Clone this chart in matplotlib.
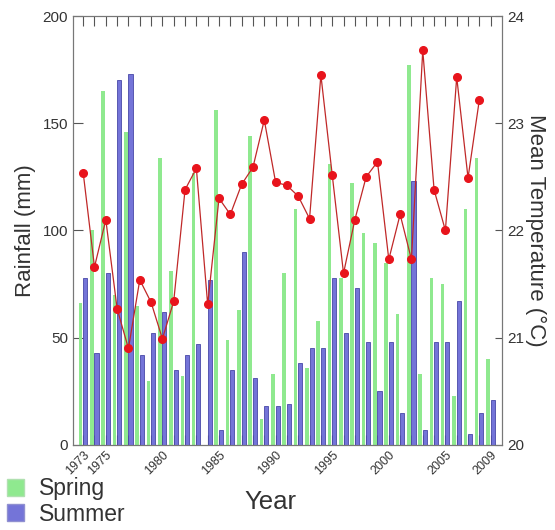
import numpy as np
import matplotlib.pyplot as plt
from matplotlib.patches import Patch

plt.rcParams['font.family'] = ['Liberation Sans', 'DejaVu Sans']

# data
years = np.arange(1973, 2010)
spring = [66, 100, 165, 70, 146, 65, 30, 134, 81, 32, 127, 0, 156, 49, 63, 144, 12, 33, 80,
          110, 36, 58, 131, 78, 122, 99, 94, 85, 61, 177, 33, 78, 75, 23, 110, 134, 40]
summer = [78, 43, 80, 170, 173, 42, 52, 62, 35, 42, 47, 77, 7, 35, 90, 31, 18, 18, 19,
          38, 45, 45, 78, 52, 73, 48, 25, 48, 15, 123, 7, 48, 48, 67, 5, 15, 21]
temp_years = np.arange(1973, 2009)
temp = [22.54, 21.66, 22.10, 21.27, 20.90, 21.54, 21.33, 20.99, 21.34, 22.38, 22.58, 21.31,
        22.30, 22.15, 22.43, 22.59, 23.03, 22.45, 22.42, 22.32, 22.11, 23.45, 22.52, 21.60,
        22.10, 22.50, 22.64, 21.73, 22.15, 21.73, 23.68, 22.38, 22.00, 23.43, 22.49, 23.22]
label_years = [1973, 1975, 1980, 1985, 1990, 1995, 2000, 2005, 2009]

green = '#8fe98f'
blue = '#7474d8'
txt = '#333333'

fig = plt.figure(figsize=(5.55, 5.3), dpi=100)
ax = fig.add_axes([0.1315, 0.1604, 0.773, 0.8094])

ax.bar(years - 0.24, spring, width=0.32, color=green, edgecolor='none', zorder=2)
ax.bar(years + 0.18, summer, width=0.36, color=blue, edgecolor='#4848a8', linewidth=0.6, zorder=3)

ax.set_xlim(1972.1, 2010.0)
ax.set_ylim(0, 200)
ax.set_yticks([0, 50, 100, 150, 200])
ax.set_xticks(years, minor=True)
ax.set_xticks(label_years)
ax.set_xticklabels([str(y) for y in label_years], rotation=45, ha='right',
                   rotation_mode='anchor', fontsize=9, color=txt)
ax.tick_params(axis='x', which='both', direction='in', top=True, length=7, width=0.8,
               color='#555555', pad=3)
ax.tick_params(axis='y', direction='in', length=7, labelsize=11, labelcolor=txt, color='#555555')
ax.set_ylabel('Rainfall (mm)', fontsize=16, color=txt, labelpad=5)
ax.set_xlabel('Year', fontsize=18.5, color=txt)
ax.xaxis.set_label_coords(0.46, -0.105)
for s in ax.spines.values():
    s.set_color('#777777')

ax2 = ax.twinx()
ax2.plot(temp_years, temp, color='#c02828', linewidth=0.9, marker='o', markersize=5.5,
         markerfacecolor='#e8141c', markeredgecolor='#e8141c', zorder=5)
ax2.set_ylim(20, 24)
ax2.set_yticks([20, 21, 22, 23, 24])
ax2.tick_params(axis='y', direction='in', length=5, labelsize=11, labelcolor=txt, color='#555555')
ax2.set_ylabel('Mean Temperature (°C)', fontsize=16, color=txt, rotation=270, labelpad=16)
for s in ax2.spines.values():
    s.set_color('#777777')

handles = [Patch(facecolor=green, edgecolor='#b0e0b0'),
           Patch(facecolor=blue, edgecolor='#9090d0')]
fig.legend(handles, ['Spring', 'Summer'], loc='lower left', bbox_to_anchor=(0.012, 0.008),
           frameon=False, fontsize=16.5, handlelength=0.75, handleheight=0.75,
           handletextpad=0.65, labelspacing=0.1, labelcolor=txt,
           borderpad=0.0, borderaxespad=0.0)

fig.savefig('out.png', dpi=100)
